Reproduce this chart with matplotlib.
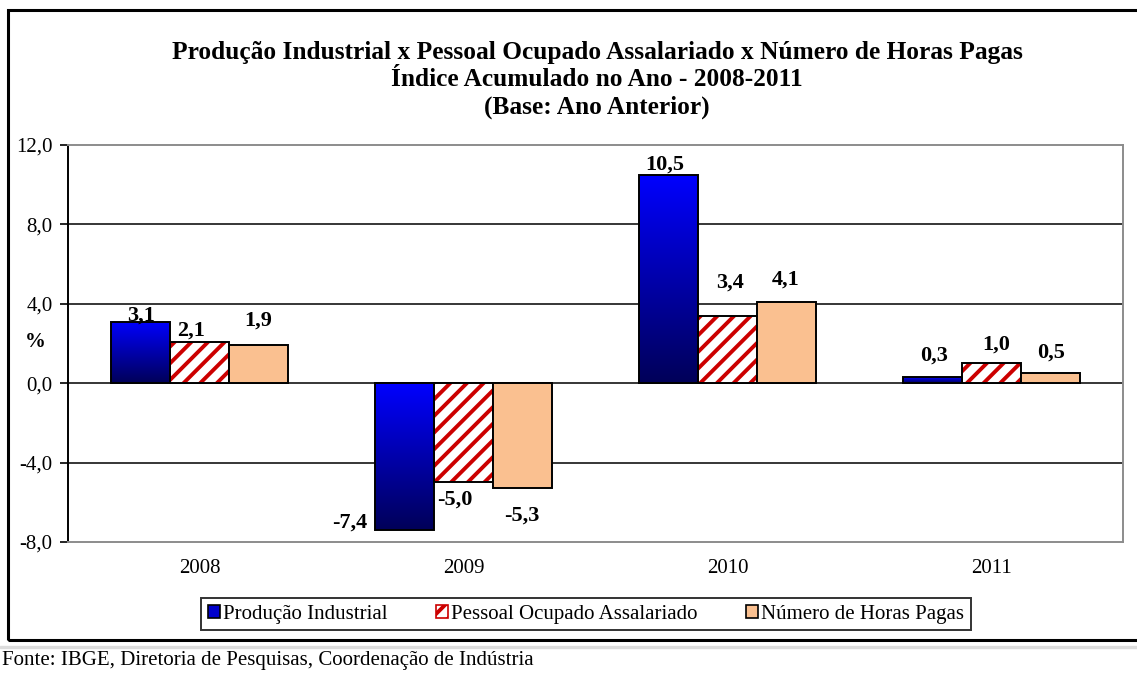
import numpy as np
import matplotlib
matplotlib.use("Agg")
import matplotlib.pyplot as plt
from matplotlib.patches import Rectangle, Patch
from matplotlib.colors import LinearSegmentedColormap

# dados
years = ["2008", "2009", "2010", "2011"]
producao = [3.1, -7.4, 10.5, 0.3]
pessoal = [2.1, -5.0, 3.4, 1.0]
horas = [1.9, -5.3, 4.1, 0.5]
series_names = ["Produção Industrial", "Pessoal Ocupado Assalariado",
                "Número de Horas Pagas"]
yticks = [-8, -4, 0, 4, 8, 12]

# deslocamento dos rótulos (px) em relação ao topo/base da barra
offs_prod = [(0, 6), (-55, -7), (-4, 10), (2, 22)]
offs_pess = [(-9, 11), (-9, 17), (3, 33), (5, 19)]
offs_horas = [(-1, 25), (-1, 27), (-1, 22), (1, 21)]

BLUE_TOP, BLUE_BOT = "#0000FF", "#000058"
RED = "#CC0000"
TAN = "#FAC090"

plt.rcParams["font.family"] = ["Liberation Serif", "DejaVu Serif"]
plt.rcParams["hatch.linewidth"] = 2.8

W, H = 1137, 677
fig = plt.figure(figsize=(W / 100, H / 100), dpi=100)
ax = fig.add_axes([68 / W, 1 - 542 / H, (1123 - 68) / W, (542 - 145) / H])

x = np.arange(len(years))
bw = 0.2235

# barras azuis com gradiente
b_prod = ax.bar(x - bw, producao, bw, facecolor="none", edgecolor="black",
                linewidth=1.4, zorder=4)
cmap = LinearSegmentedColormap.from_list("blu", [BLUE_BOT, BLUE_TOP])
grad = np.linspace(0, 1, 256).reshape(-1, 1)
for r in b_prod:
    x0, y0 = r.get_x(), r.get_y()
    w, h = r.get_width(), r.get_height()
    ylo, yhi = min(y0, y0 + h), max(y0, y0 + h)
    im = ax.imshow(grad, extent=[x0, x0 + w, ylo, yhi], origin="lower",
                   aspect="auto", cmap=cmap, zorder=3)
    im.set_clip_path(r)

# barras listradas
ax.bar(x, pessoal, bw, color="white", edgecolor=RED, hatch="//",
       linewidth=0, zorder=3)
b_pess = ax.bar(x, pessoal, bw, fill=False, edgecolor="black",
                linewidth=1.4, zorder=4)

b_horas = ax.bar(x + bw, horas, bw, color=TAN, edgecolor="black",
                 linewidth=1.4, zorder=4)

ax.set_xlim(-0.5, len(years) - 0.5)
ax.set_ylim(-8, 12)
ax.set_yticks(yticks)
ax.set_yticklabels([f"{v:.1f}".replace(".", ",") for v in yticks], fontsize=15)
ax.set_xticks(x)
ax.set_xticklabels(years, fontsize=15)
ax.tick_params(axis="x", length=0, pad=12)
ax.tick_params(axis="y", length=6, width=1.2, direction="out", pad=5)
for v in yticks[1:-1]:
    ax.axhline(v, color="black", linewidth=1.1, zorder=1)
ax.spines["left"].set_linewidth(1.4)
for s in ("top", "right", "bottom"):
    ax.spines[s].set_color("#8c8c8c")
    ax.spines[s].set_linewidth(1.4)

ax.text((35 - 68) / 1055, (542 - 342) / 397, "%", transform=ax.transAxes,
        fontsize=15, fontweight="bold", ha="center", va="center")


def fmt(v):
    return f"{v:.1f}".replace(".", ",")


for bars, vals, offs in ((b_prod, producao, offs_prod),
                         (b_pess, pessoal, offs_pess),
                         (b_horas, horas, offs_horas)):
    for r, v, (dx, dy) in zip(bars, vals, offs):
        xc = r.get_x() + r.get_width() / 2
        sign = 1 if v >= 0 else -1
        ax.annotate(fmt(v), (xc, v), xytext=(dx * 0.72, sign * dy * 0.72),
                    textcoords="offset points", ha="center", va="center",
                    fontsize=16, fontweight="bold", zorder=6)

# título
tx = 597 / W
fig.text(tx, 1 - 53 / H, "Produção Industrial x Pessoal Ocupado Assalariado x Número de Horas Pagas",
         ha="center", va="center", fontsize=18.3, fontweight="bold")
fig.text(tx, 1 - 80 / H, "Índice Acumulado no Ano - 2008-2011",
         ha="center", va="center", fontsize=18.3, fontweight="bold")
fig.text(tx, 1 - 107 / H, "(Base: Ano Anterior)",
         ha="center", va="center", fontsize=18.3, fontweight="bold")

# legenda
handles = [Patch(facecolor="#0000CC", edgecolor="black", linewidth=1.2),
           Patch(facecolor="white", edgecolor=RED, hatch="//", linewidth=1.2),
           Patch(facecolor=TAN, edgecolor="black", linewidth=1.2)]
leg = fig.legend(handles, series_names, loc="center", ncol=3,
                 bbox_to_anchor=(586 / W, 1 - 614 / H), fontsize=15,
                 frameon=True, fancybox=False, edgecolor="black",
                 handlelength=0.6, handleheight=0.6, handletextpad=0.15,
                 columnspacing=2.3, borderpad=0.3, borderaxespad=0)
leg.get_frame().set_linewidth(1.4)

# moldura do gráfico
fig.patches.append(Rectangle((8 / W, 1 - 640 / H), 1.2, (640 - 10) / H,
                             transform=fig.transFigure, fill=False,
                             edgecolor="black", linewidth=2.2))
fig.patches.append(Rectangle((0, 1 - 648 / H), 1, 2 / H,
                             transform=fig.transFigure, color="#dcdcdc"))

fig.text(2 / W, 1 - 660 / H, "Fonte: IBGE, Diretoria de Pesquisas, Coordenação de Indústria",
         ha="left", va="center", fontsize=15)

fig.savefig("out.png", dpi=100)
